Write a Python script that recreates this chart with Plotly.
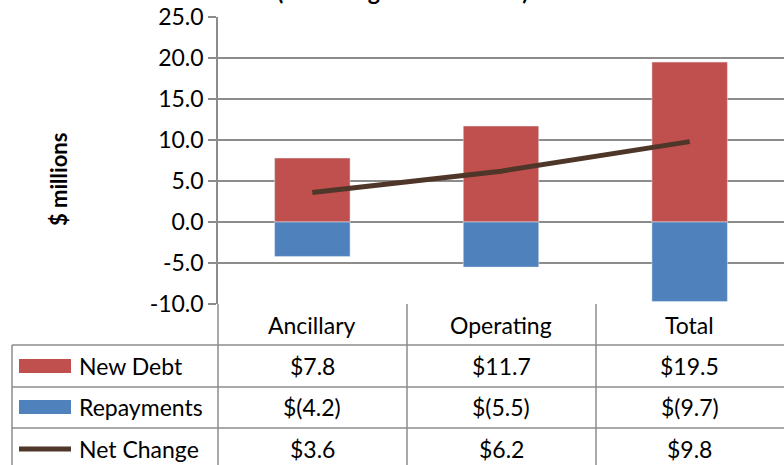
import plotly.graph_objects as go

categories = ["Ancillary", "Operating", "Total"]
new_debt = [7.8, 11.7, 19.5]
repayments = [-4.2, -5.5, -9.7]
net_change = [3.6, 6.2, 9.8]
series_names = ["New Debt", "Repayments", "Net Change"]
y_ticks = [-10, -5, 0, 5, 10, 15, 20, 25]

RED = "#C0504D"
BLUE = "#4F81BD"
BROWN = "#4E3629"
GRID = "#8C8C8C"
FONT = "Lato, Calibri, sans-serif"

W, H = 784, 465
L, T, B = 218, 17, 304  # plot area in pixels
plot_w, plot_h = W - L, B - T


def px_x(p):
    return (p - L) / plot_w


def px_y(p):
    return (B - p) / plot_h


def money(v):
    return f"${v:.1f}" if v >= 0 else f"$({abs(v):.1f})"


fig = go.Figure()
fig.add_trace(go.Bar(x=categories, y=new_debt, name=series_names[0], marker_color=RED, width=0.4))
fig.add_trace(go.Bar(x=categories, y=repayments, name=series_names[1], marker_color=BLUE, width=0.4))
fig.add_trace(go.Scatter(x=categories, y=net_change, name=series_names[2], mode="lines",
                         line=dict(color=BROWN, width=5)))

fig.update_layout(
    width=W, height=H,
    margin=dict(l=L, r=0, t=T, b=H - B, pad=0),
    barmode="relative",
    showlegend=False,
    plot_bgcolor="white",
    paper_bgcolor="white",
    font=dict(family=FONT, size=23, color="black"),
)
fig.update_xaxes(showticklabels=False, showgrid=False, zeroline=False, showline=False)
fig.update_yaxes(
    range=[-10, 25], tickvals=y_ticks, ticktext=[f"{v:.1f}" for v in y_ticks],
    showgrid=True, gridcolor=GRID, gridwidth=1.5,
    zeroline=True, zerolinecolor=GRID, zerolinewidth=1.5,
    showline=True, linecolor=GRID, linewidth=1.5,
    ticks="outside", ticklen=8, tickcolor=GRID, tickwidth=1.5,
    tickfont=dict(size=23),
)

# title, mostly cut off at the top of the picture
fig.add_annotation(text="<b>(excluding interest costs)</b>", xref="paper", yref="paper",
                   x=px_x(402), y=px_y(-9), xanchor="center", yanchor="middle",
                   showarrow=False, font=dict(size=23))
fig.add_annotation(text="<b>$ millions</b>", xref="paper", yref="paper",
                   x=px_x(58), y=px_y(180), textangle=-90, showarrow=False,
                   xanchor="center", yanchor="middle", font=dict(size=22))

# data table under the chart
line = dict(color=GRID, width=1.5)
shapes = []
for xp in [218, 407, 596]:
    shapes.append(dict(type="line", xref="paper", yref="paper", x0=px_x(xp), x1=px_x(xp),
                       y0=px_y(304), y1=px_y(470), line=line))
shapes.append(dict(type="line", xref="paper", yref="paper", x0=px_x(12), x1=px_x(12),
                   y0=px_y(345), y1=px_y(470), line=line))
for yp in [345, 387, 428]:
    shapes.append(dict(type="line", xref="paper", yref="paper", x0=px_x(12), x1=1,
                       y0=px_y(yp), y1=px_y(yp), line=line))

row_centers = [366, 407, 449]
# legend keys
shapes.append(dict(type="rect", xref="paper", yref="paper", x0=px_x(19), x1=px_x(71),
                   y0=px_y(359), y1=px_y(373), fillcolor=RED, line=dict(width=0)))
shapes.append(dict(type="rect", xref="paper", yref="paper", x0=px_x(19), x1=px_x(71),
                   y0=px_y(400), y1=px_y(414), fillcolor=BLUE, line=dict(width=0)))
shapes.append(dict(type="line", xref="paper", yref="paper", x0=px_x(19), x1=px_x(71),
                   y0=px_y(449), y1=px_y(449), line=dict(color=BROWN, width=5)))
fig.update_layout(shapes=shapes)

for cat in categories:
    fig.add_annotation(text=cat, x=cat, xref="x", y=px_y(325), yref="paper",
                       showarrow=False, yanchor="middle")

for name, yp in zip(series_names, row_centers):
    fig.add_annotation(text=name, x=px_x(77), xref="paper", y=px_y(yp), yref="paper",
                       xanchor="left", showarrow=False, yanchor="middle")

for values, yp in zip([new_debt, repayments, net_change], row_centers):
    for cat, v in zip(categories, values):
        fig.add_annotation(text=money(v), x=cat, xref="x", y=px_y(yp), yref="paper",
                           showarrow=False, yanchor="middle")

fig.write_html("out.html", config={"displayModeBar": False},
               post_script="document.body.style.margin='0';")
